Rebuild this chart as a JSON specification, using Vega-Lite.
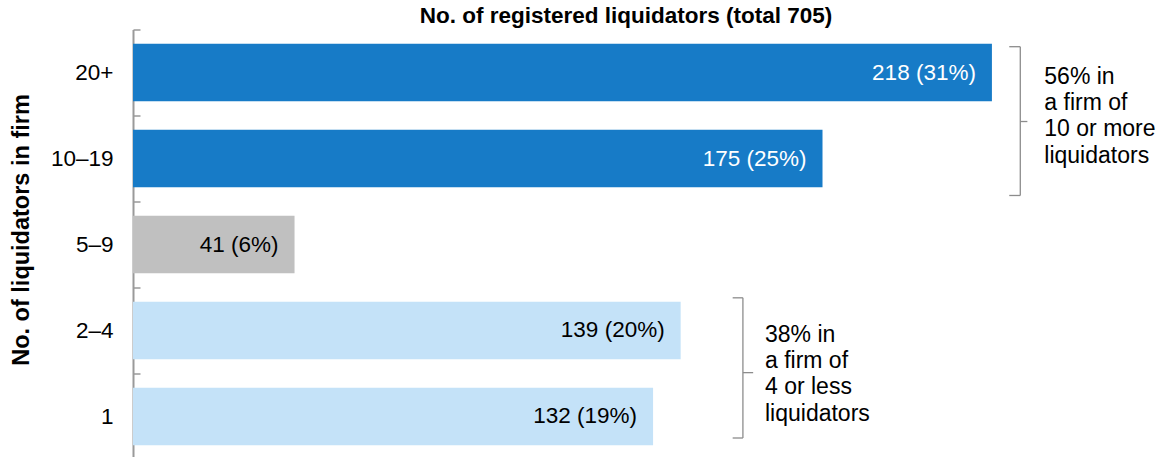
{
  "$schema": "https://vega.github.io/schema/vega-lite/v6.json",
  "width": 985,
  "height": 430,
  "autosize": {"type": "none"},
  "padding": {"left": 133, "top": 29.5, "right": 43, "bottom": 0},
  "background": "white",
  "config": {"view": {"stroke": null}, "font": "Liberation Sans"},
  "datasets": {
    "bars": [
      {"size": "20+", "count": 218, "label": "218 (31%)", "group": "10+"},
      {"size": "10–19", "count": 175, "label": "175 (25%)", "group": "10+"},
      {"size": "5–9", "count": 41, "label": "41 (6%)", "group": "5–9"},
      {"size": "2–4", "count": 139, "label": "139 (20%)", "group": "4-"},
      {"size": "1", "count": 132, "label": "132 (19%)", "group": "4-"}
    ],
    "brackets": [
      {"top": 0.2, "mid": 1.07, "bottom": 1.93, "x": 225.2, "xin": 222.4, "xout": 227.0, "tx": 231.3, "ty": 0.63, "note": ["56% in", "a firm of", "10 or more", "liquidators"]},
      {"top": 3.12, "mid": 3.99, "bottom": 4.75, "x": 154.8, "xin": 152.2, "xout": 157.4, "tx": 160.4, "ty": 3.63, "note": ["38% in", "a firm of", "4 or less", "liquidators"]}
    ]
  },
  "layer": [
    {
      "data": {"name": "bars"},
      "encoding": {
        "y": {
          "field": "size",
          "type": "nominal",
          "sort": null,
          "scale": {"paddingInner": 0.331, "paddingOuter": 0.166},
          "axis": {
            "title": "No. of liquidators in firm",
            "titleFontSize": 23.5,
            "titleFontWeight": "bold",
            "titleColor": "black",
            "titlePadding": 17,
            "titleY": 200,
            "labelFontSize": 22.5,
            "labelColor": "black",
            "labelPadding": 27,
            "labelOffset": 43,
            "domainColor": "#9a9a9a",
            "domainWidth": 2,
            "tickColor": "#9a9a9a",
            "tickWidth": 1.5,
            "tickSize": -7,
            "tickOffset": -43,
            "grid": false
          }
        },
        "x": {
          "field": "count",
          "type": "quantitative",
          "scale": {"domain": [0, 250], "nice": false},
          "axis": {
            "orient": "top",
            "title": "No. of registered liquidators (total 705)",
            "titleFontSize": 22.5,
            "titleFontWeight": "bold",
            "titleColor": "black",
            "titlePadding": 2,
            "labels": false,
            "ticks": false,
            "domain": false,
            "grid": false
          }
        }
      },
      "layer": [
        {
          "mark": {"type": "bar"},
          "encoding": {
            "color": {
              "field": "group",
              "type": "nominal",
              "scale": {"domain": ["10+", "5–9", "4-"], "range": ["#177BC7", "#C0C0C0", "#C4E2F8"]},
              "legend": null
            }
          }
        },
        {
          "mark": {"type": "text", "align": "right", "baseline": "middle", "dx": -16, "fontSize": 22.5},
          "encoding": {
            "text": {"field": "label"},
            "color": {"condition": {"test": "datum.group === '10+'", "value": "white"}, "value": "black"}
          }
        }
      ]
    },
    {
      "data": {"name": "brackets"},
      "encoding": {
        "y": {"field": "top", "type": "quantitative", "scale": {"domain": [0, 5], "reverse": true, "nice": false, "zero": false}, "axis": null}
      },
      "layer": [
        {
          "mark": {"type": "rule", "color": "#8c8c8c", "strokeWidth": 1.3},
          "encoding": {"x": {"field": "x", "type": "quantitative"}, "y2": {"field": "bottom"}}
        },
        {
          "mark": {"type": "rule", "color": "#8c8c8c", "strokeWidth": 1.3},
          "encoding": {"x": {"field": "xin", "type": "quantitative"}, "x2": {"field": "x"}}
        },
        {
          "mark": {"type": "rule", "color": "#8c8c8c", "strokeWidth": 1.3},
          "encoding": {"x": {"field": "xin", "type": "quantitative"}, "x2": {"field": "x"}, "y": {"field": "bottom", "type": "quantitative"}}
        },
        {
          "mark": {"type": "rule", "color": "#8c8c8c", "strokeWidth": 1.3},
          "encoding": {"x": {"field": "x", "type": "quantitative"}, "x2": {"field": "xout"}, "y": {"field": "mid", "type": "quantitative"}}
        },
        {
          "mark": {"type": "text", "align": "left", "baseline": "alphabetic", "fontSize": 23, "lineHeight": 26.3, "color": "black"},
          "encoding": {"x": {"field": "tx", "type": "quantitative"}, "y": {"field": "ty", "type": "quantitative"}, "text": {"field": "note"}}
        }
      ]
    }
  ],
  "resolve": {"scale": {"y": "independent"}}
}
